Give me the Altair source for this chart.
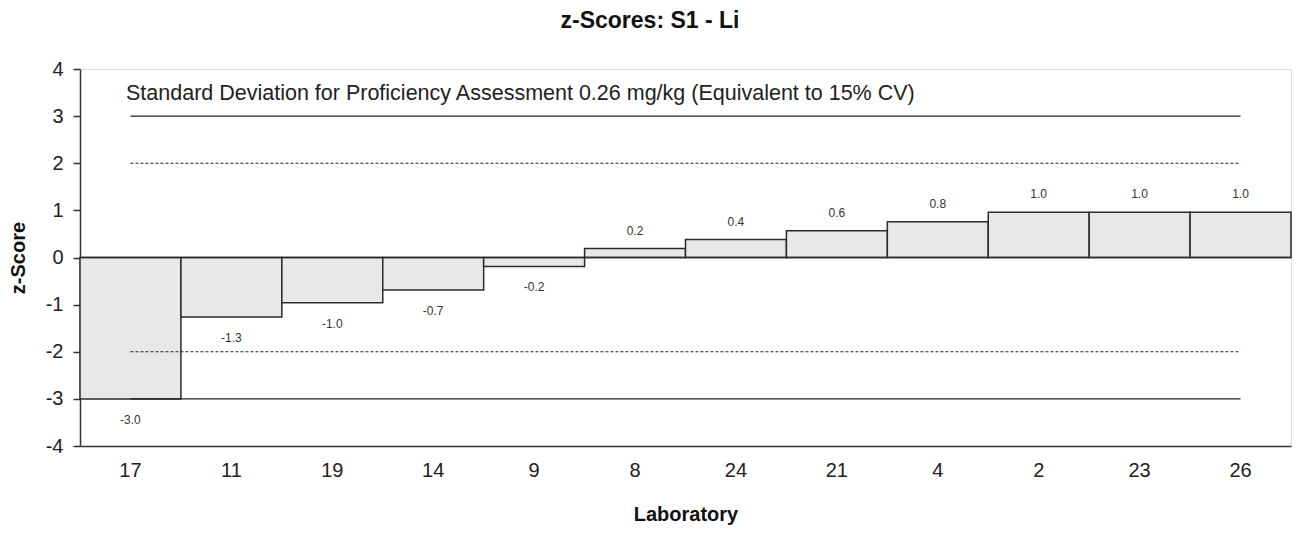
import altair as alt
import pandas as pd

labs = ["17", "11", "19", "14", "9", "8", "24", "21", "4", "2", "23", "26"]
zscores = [-3.0, -1.26, -0.96, -0.69, -0.19, 0.19, 0.38, 0.57, 0.76, 0.96, 0.96, 0.96]

limit_values = [3, 2, -2, -3]
limit_styles = ["solid", "dashed", "dashed", "solid"]

title_text = "z-Scores: S1 - Li"
note_text = "Standard Deviation for Proficiency Assessment  0.26 mg/kg  (Equivalent to 15% CV)"

df = pd.DataFrame({"lab": labs, "z": zscores})
lim = pd.DataFrame({
    "y": limit_values,
    "style": limit_styles,
    "x1": [labs[0]] * len(limit_values),
    "x2": [labs[-1]] * len(limit_values),
})

FONT = "Liberation Sans"

xscale = alt.Scale(domain=labs, paddingInner=0, paddingOuter=0)
yscale = alt.Scale(domain=[-4, 4], nice=False)

xenc = alt.X("lab:N", scale=xscale, sort=labs,
             axis=alt.Axis(title="Laboratory", labelAngle=0, ticks=False, labelPadding=14,
                           labelFontSize=20, titleFontSize=20, titleFontWeight="bold",
                           titlePadding=24, domainColor="#333", domainWidth=1.5,
                           labelColor="#222", titleColor="#111", labelFont=FONT, titleFont=FONT))

base = alt.Chart(df).transform_calculate(
    lbl="(datum.z < 0 ? '-' : '') + format(abs(datum.z), '.1f')")

bars = base.mark_bar(fill="#e8e8e8", stroke="#2b2b2b", strokeWidth=1.5).encode(
    x=xenc,
    y=alt.Y("z:Q", scale=yscale,
            axis=alt.Axis(title="z-Score", values=list(range(-4, 5)), grid=False,
                          labelExpr="'' + datum.value",
                          tickSize=7, tickColor="#333", tickWidth=1.5, labelPadding=10,
                          labelFontSize=20, titleFontSize=20, titleFontWeight="bold",
                          titlePadding=17, domainColor="#333", domainWidth=1.5,
                          labelColor="#222", titleColor="#111", labelFont=FONT, titleFont=FONT)),
    y2=alt.datum(0),
)

pos_labels = base.transform_filter("datum.z >= 0").mark_text(
    fontSize=12, font=FONT, color="#333", dy=-18).encode(
    x=alt.X("lab:N", scale=xscale, sort=labs),
    y=alt.Y("z:Q", scale=yscale),
    text="lbl:N",
)
neg_labels = base.transform_filter("datum.z < 0").mark_text(
    fontSize=12, font=FONT, color="#333", dy=21).encode(
    x=alt.X("lab:N", scale=xscale, sort=labs),
    y=alt.Y("z:Q", scale=yscale),
    text="lbl:N",
)

solid = alt.Chart(lim).transform_filter("datum.style == 'solid'").mark_rule(
    color="#222", strokeWidth=1.2).encode(
    x=alt.X("x1:N", scale=xscale, sort=labs),
    x2="x2:N",
    y=alt.Y("y:Q", scale=yscale),
)
dashed = alt.Chart(lim).transform_filter("datum.style == 'dashed'").mark_rule(
    color="#222", strokeWidth=1, strokeDash=[3, 2]).encode(
    x=alt.X("x1:N", scale=xscale, sort=labs),
    x2="x2:N",
    y=alt.Y("y:Q", scale=yscale),
)

zero = alt.Chart(pd.DataFrame({"y": [0]})).mark_rule(color="#2b2b2b", strokeWidth=1.5).encode(
    y=alt.Y("y:Q", scale=yscale))

note = alt.Chart(pd.DataFrame({"t": [note_text]})).mark_text(
    align="left", baseline="middle", fontSize=21.5, font=FONT, color="#222").encode(
    x=alt.value(46), y=alt.value(25), text="t:N")

chart = alt.layer(bars, zero, solid, dashed, pos_labels, neg_labels, note).properties(
    width=1211, height=377,
    title=alt.TitleParams(title_text, fontSize=23, font=FONT, fontWeight="bold",
                          anchor="middle", frame="bounds", offset=26, color="#111"),
    autosize=alt.AutoSizeParams(type="none"),
    padding={"left": 72, "top": 61, "right": 1, "bottom": 80},
).configure_view(stroke="#2b2b2b", strokeWidth=1.5).configure(background="white")

chart.save("out.html", embed_options={"renderer": "svg", "actions": False})
